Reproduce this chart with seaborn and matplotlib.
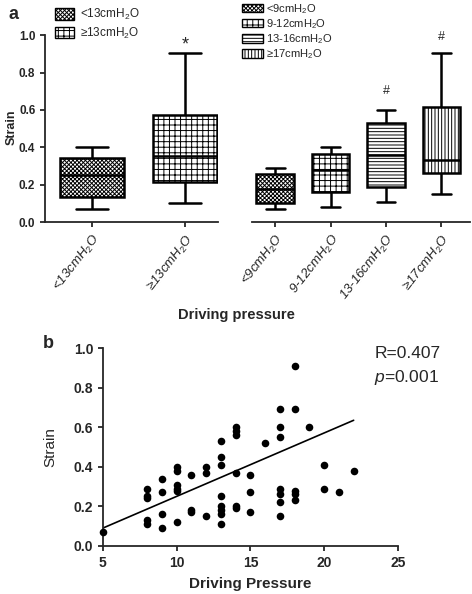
import matplotlib
matplotlib.use("Agg")
import matplotlib.pyplot as plt
from matplotlib.patches import Patch
import seaborn as sns
import pandas as pd

# five-number summaries: min, q1, median, q3, max
groups2 = ['<13cmH$_2$O', '≥13cmH$_2$O']
box2 = [[0.07, 0.135, 0.25, 0.345, 0.40],
        [0.105, 0.215, 0.353, 0.572, 0.905]]
groups4 = ['<9cmH$_2$O', '9-12cmH$_2$O', '13-16cmH$_2$O', '≥17cmH$_2$O']
box4 = [[0.07, 0.10, 0.176, 0.257, 0.287],
        [0.082, 0.159, 0.278, 0.364, 0.40],
        [0.109, 0.189, 0.358, 0.531, 0.599],
        [0.148, 0.264, 0.332, 0.617, 0.907]]

# panel b scatter
dp = [5, 8, 8, 8, 8, 8, 9, 9, 9, 9, 10, 10, 10, 10, 10, 10,
      11, 11, 11, 12, 12, 12, 13, 13, 13, 13, 13, 13, 13, 13,
      14, 14, 14, 14, 14, 14, 15, 15, 15, 16,
      17, 17, 17, 17, 17, 17, 17, 18, 18, 18, 18, 18, 19, 20, 20, 21, 22]
strain = [0.07, 0.29, 0.25, 0.24, 0.13, 0.11, 0.34, 0.27, 0.16, 0.09,
          0.40, 0.38, 0.31, 0.29, 0.28, 0.12,
          0.36, 0.18, 0.17, 0.40, 0.37, 0.15,
          0.53, 0.45, 0.41, 0.25, 0.20, 0.18, 0.16, 0.11,
          0.60, 0.58, 0.56, 0.37, 0.20, 0.19, 0.36, 0.27, 0.17, 0.52,
          0.69, 0.60, 0.55, 0.29, 0.26, 0.22, 0.15,
          0.91, 0.69, 0.28, 0.26, 0.23, 0.60, 0.41, 0.29, 0.27, 0.38]
# fitted line as printed in the figure (end points)
fit_x = [5, 22]
fit_y = [0.09, 0.635]

sns.set_style("ticks")
plt.rcParams['font.family'] = ['Liberation Sans', 'DejaVu Sans']
plt.rcParams['mathtext.fontset'] = 'custom'
plt.rcParams['mathtext.rm'] = 'Liberation Sans'
plt.rcParams['mathtext.it'] = 'Liberation Sans:italic'
plt.rcParams['axes.linewidth'] = 1.3
plt.rcParams['xtick.major.width'] = 1.3
plt.rcParams['ytick.major.width'] = 1.3
plt.rcParams['hatch.linewidth'] = 0.7

hatches2 = ['xxxxxxxx', '+++']
hatches4 = ['xxxxxxxx', '+++', '-----', '|||||']


def long_df(names, stats):
    rows = []
    for n, s in zip(names, stats):
        for v in s:
            rows.append((n, v))
    return pd.DataFrame(rows, columns=['group', 'strain'])


def draw_boxes(ax, names, stats, hatches):
    sns.boxplot(data=long_df(names, stats), x='group', y='strain', order=names,
                color='white', linecolor='black', linewidth=1.8, width=0.68,
                whis=(0, 100), ax=ax)
    for p, h in zip(ax.patches, hatches):
        p.set_hatch(h)
        p.set_facecolor('white')
    ax.set_xlabel('')
    ax.set_ylabel('')
    ax.set_ylim(0, 1.0)
    for lab in ax.get_xticklabels():
        lab.set_rotation(52)
        lab.set_ha('right')
        lab.set_rotation_mode('anchor')
        lab.set_fontsize(9.5)
        lab.set_style('italic')


fig = plt.figure(figsize=(4.72, 5.94), dpi=100)

ax1 = fig.add_axes([0.0953, 0.626, 0.3665, 0.3148])
draw_boxes(ax1, groups2, box2, hatches2)
ax1.set_xlim(-0.5, 1.35)
ax1.set_yticks([0, 0.2, 0.4, 0.6, 0.8, 1.0])
ax1.set_yticklabels(['0.0', '0.2', '0.4', '0.6', '0.8', '1.0'],
                    fontweight='bold', fontsize=8.5)
ax1.text(1, 0.95, '*', ha='center', va='center', fontsize=13, clip_on=False)
sns.despine(ax=ax1)

ax2 = fig.add_axes([0.534, 0.626, 0.462, 0.3148])
draw_boxes(ax2, groups4, box4, hatches4)
ax2.set_xlim(-0.42, 3.52)
ax2.set_yticks([])
sns.despine(ax=ax2, left=True)
ax2.text(2, 0.70, '#', ha='center', va='center', fontsize=9)
ax2.text(3, 0.99, '#', ha='center', va='center', fontsize=9, clip_on=False)

fig.text(0.025, 0.785, 'Strain', rotation=90, ha='center', va='center',
         fontsize=9, fontweight='bold')
fig.text(0.50, 0.470, 'Driving pressure', ha='center', va='center',
         fontsize=10.5, fontweight='bold')
fig.text(0.018, 0.975, 'a', ha='left', va='center', fontsize=13, fontweight='bold')

h2 = [Patch(facecolor='white', edgecolor='black', hatch=h, label=n)
      for h, n in zip(hatches2, groups2)]
fig.legend(handles=h2, loc='upper left', bbox_to_anchor=(0.102, 1.0),
           frameon=False, fontsize=8.5, handlelength=1.6, handleheight=1.1,
           labelspacing=0.3, borderpad=0.1, handletextpad=0.5)
h4 = [Patch(facecolor='white', edgecolor='black', hatch=h, label=n)
      for h, n in zip(hatches4, groups4)]
fig.legend(handles=h4, loc='upper left', bbox_to_anchor=(0.498, 1.008),
           frameon=False, fontsize=8, handlelength=1.9, handleheight=0.8,
           labelspacing=0.12, borderpad=0.1, handletextpad=0.3)

# panel b
ax3 = fig.add_axes([0.218, 0.081, 0.625, 0.333])
sns.scatterplot(x=dp, y=strain, ax=ax3, color='black', s=30, linewidth=0,
                clip_on=False, zorder=3)
sns.lineplot(x=fit_x, y=fit_y, ax=ax3, color='black', linewidth=1.2)
ax3.set_xlim(5, 25)
ax3.set_ylim(0, 1.0)
ax3.set_xticks([5, 10, 15, 20, 25])
ax3.set_xticklabels(['5', '10', '15', '20', '25'], fontweight='bold', fontsize=10)
ax3.set_yticks([0, 0.2, 0.4, 0.6, 0.8, 1.0])
ax3.set_yticklabels(['0.0', '0.2', '0.4', '0.6', '0.8', '1.0'],
                    fontweight='bold', fontsize=10)
ax3.set_xlabel('Driving Pressure', fontsize=11, fontweight='bold', labelpad=5)
ax3.set_ylabel('Strain', fontsize=11, labelpad=12)
sns.despine(ax=ax3)
ax3.text(0.92, 0.975, 'R=0.407', transform=ax3.transAxes, ha='left',
         va='center', fontsize=12.5)
ax3.text(0.92, 0.85, '$p$=0.001', transform=ax3.transAxes, ha='left',
         va='center', fontsize=12.5)
fig.text(0.09, 0.422, 'b', ha='left', va='center', fontsize=13, fontweight='bold')

fig.savefig('out.png', dpi=100)
